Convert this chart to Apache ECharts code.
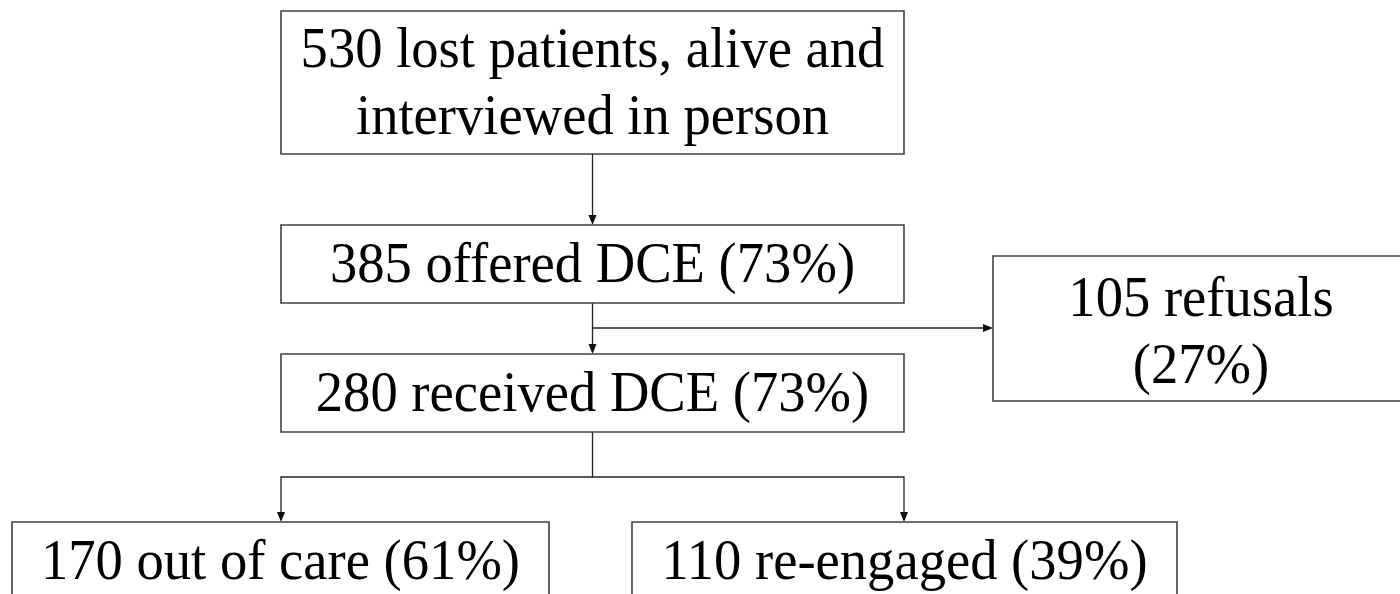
<!DOCTYPE html>
<html>
<head>
<meta charset="utf-8">
<script src="https://cdn.jsdelivr.net/npm/echarts@6/dist/echarts.min.js"></script>
<style>
  html, body { margin: 0; padding: 0; background: #ffffff; }
  #chart { width: 1400px; height: 594px; }
</style>
</head>
<body>
<div id="chart"></div>
<script>
// ---- Data (flow counts and percentages) ----
const counts = [530, 385, 280, 105, 170, 110];
const descriptions = [
  'lost patients, alive and\ninterviewed in person',
  'offered DCE',
  'received DCE',
  'refusals\n',
  'out of care',
  're-engaged'
];
const percents = [null, 73, 73, 27, 61, 39];

// ---- Flow links: from node -> to node ----
const links = [[0, 1], [1, 2], [1, 3], [2, 4], [2, 5]];

// ---- Layout (axis units == pixels on the hidden axes) ----
const boxLayout = [
  [281, 11, 904, 154],
  [281, 225, 904, 303],
  [281, 354, 904, 432],
  [993, 256, 1409, 401],
  [12, 522, 549, 640],
  [632, 522, 1177, 640]
];
const textCenterY = [86, 267, 396, 335, 564, 564];
// connector paths in axis units
const linkPaths = [
  [[592.5, 154], [592.5, 225]],
  [[592.5, 303], [592.5, 354]],
  [[592.5, 328], [993, 328]],
  [[592.5, 432], [592.5, 477], [281, 477], [281, 522]],
  [[592.5, 477], [904, 477], [904, 522]]
];

function labelOf(i) {
  let t = counts[i] + ' ' + descriptions[i];
  if (percents[i] != null) {
    t += (t.endsWith('\n') ? '' : ' ') + '(' + percents[i] + '%)';
  }
  return t;
}

const chart = echarts.init(document.getElementById('chart'), null, { renderer: 'canvas' });

const option = {
  animation: false,
  backgroundColor: '#ffffff',
  grid: { left: 0, right: 0, top: 0, bottom: 0, containLabel: false },
  xAxis: { type: 'value', min: 0, max: 1400, show: false },
  yAxis: { type: 'value', min: 0, max: 594, inverse: true, show: false },
  series: [
    {
      type: 'custom',
      clip: false,
      data: links.map((l, i) => [i, l[0], l[1]]),
      renderItem: function (params, api) {
        const idx = api.value(0);
        const pts = linkPaths[idx].map(p => api.coord(p));
        const n = pts.length;
        const end = pts[n - 1], prev = pts[n - 2];
        const dx = end[0] - prev[0], dy = end[1] - prev[1];
        const len = Math.sqrt(dx * dx + dy * dy);
        const ux = dx / len, uy = dy / len;
        const L = 10, W = 4;
        const bx = end[0] - ux * L, by = end[1] - uy * L;
        const tri = [
          end,
          [bx - uy * W, by + ux * W],
          [bx + uy * W, by - ux * W]
        ];
        const linePts = pts.slice(0, n - 1).concat([[bx, by]]);
        return {
          type: 'group',
          children: [
            { type: 'polyline', shape: { points: linePts }, style: { stroke: '#222', lineWidth: 1.3, fill: null } },
            { type: 'polygon', shape: { points: tri }, style: { fill: '#111' } }
          ]
        };
      }
    },
    {
      type: 'custom',
      clip: false,
      data: counts.map((c, i) => [i, c]),
      renderItem: function (params, api) {
        const i = api.value(0);
        const b = boxLayout[i];
        const p0 = api.coord([b[0], b[1]]);
        const p1 = api.coord([b[2], b[3]]);
        const cy = api.coord([0, textCenterY[i]])[1];
        return {
          type: 'group',
          children: [
            {
              type: 'rect',
              shape: { x: p0[0], y: p0[1], width: p1[0] - p0[0], height: p1[1] - p0[1] },
              style: { fill: '#ffffff', stroke: '#404040', lineWidth: 1.6 }
            },
            {
              type: 'text',
              x: (p0[0] + p1[0]) / 2,
              y: cy,
              scaleX: 0.975,
              style: {
                x: 0,
                y: 0,
                text: labelOf(i).replace(/\n$/, ''),
                align: 'center',
                verticalAlign: 'middle',
                font: '56px "Liberation Serif", "Times New Roman", serif',
                lineHeight: 67,
                fill: '#000000'
              }
            }
          ]
        };
      }
    }
  ]
};

chart.setOption(option);
</script>
</body>
</html>
